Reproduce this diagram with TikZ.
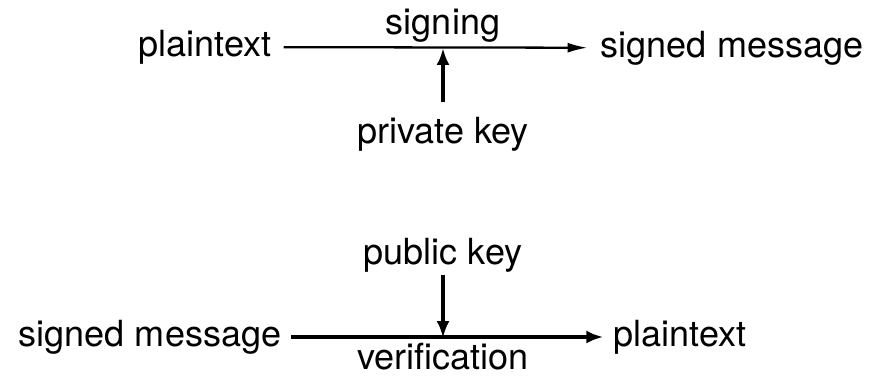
\documentclass[tikz,border=0pt]{standalone}
\usepackage{fontspec}
\setmainfont{TeX Gyre Heros}
\usetikzlibrary{arrows.meta}
\begin{document}
\begin{tikzpicture}[x=0.02cm,y=-0.02cm,
    lbl/.style={inner sep=0pt,font=\fontsize{20.5}{24}\selectfont},
    flow/.style={-{Latex[length=0.4cm,width=0.2cm]},line width=1.3pt},
    keyflow/.style={-{Latex[length=0.34cm,width=0.26cm]},line width=2.1pt}]
  \useasboundingbox (0,0) rectangle (885,375);
  % signing
  \coordinate (j1) at (443,48);
  \node[lbl] (plain1) at (205,47) {plaintext};
  \node[lbl] (signed1) at (732,48) {signed message};
  \node[lbl] (signing) at (443,26) {signing};
  \node[lbl] (privkey) at (443,134) {private key};
  \draw[flow, shorten <=0.24cm, shorten >=0.26cm] (plain1) -- (signed1);
  \draw[keyflow, shorten <=0.3cm] (privkey) -- (j1);
  % verification
  \coordinate (j2) at (443,338);
  \node[lbl] (signed2) at (150,337) {signed message};
  \node[lbl] (plain2) at (680,337) {plaintext};
  \node[lbl] (pubkey) at (443,255) {public key};
  \node[lbl] (verif) at (443,357) {verification};
  \draw[keyflow, line width=1.9pt, shorten <=0.2cm, shorten >=0.2cm] (signed2) -- (plain2);
  \draw[keyflow, shorten <=0.05cm] (pubkey) -- (j2);
\end{tikzpicture}
\end{document}
